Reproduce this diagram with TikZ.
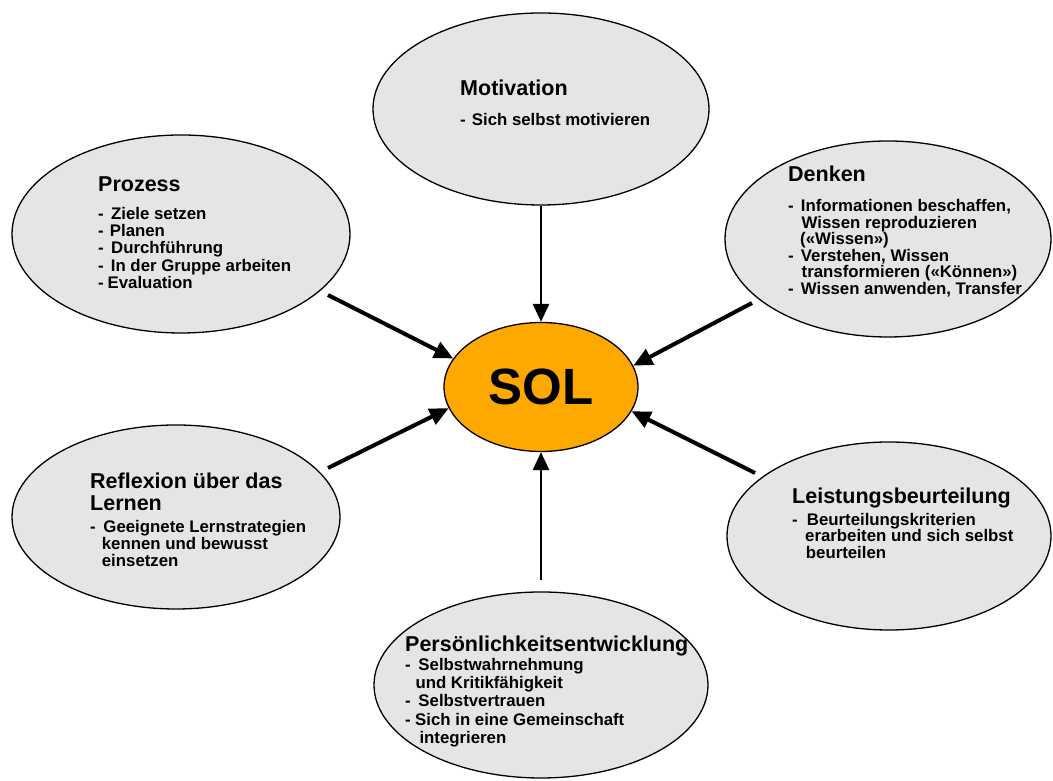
\documentclass[tikz,border=0pt]{standalone}
\usepackage{fontspec}
\setmainfont{Liberation Sans}
\usetikzlibrary{shapes.geometric,arrows.meta}
\definecolor{bubblegrey}{RGB}{229,229,229}
\definecolor{solorange}{RGB}{255,168,0}
\newcommand\mydash[1][12pt]{\makebox[#1][l]{-}}
\newcommand\myind[1][12.5pt]{\hspace*{#1}}
\newcommand\tstrut{\rule{0pt}{20pt}}
\newcommand\bstrut{\rule{0pt}{16pt}}
\begin{document}
\begin{tikzpicture}[x=1pt,y=1pt,
  bubble/.style={ellipse,draw=black,line width=1.3pt,fill=bubblegrey,inner sep=0pt},
  ttl/.style={anchor=north west,inner sep=0pt,align=left,font=\fontsize{21.5}{22.4}\selectfont\bfseries},
  body/.style={anchor=north west,inner sep=0pt,align=left,font=\fontsize{16.8}{#1}\selectfont\bfseries},
  body/.default=17.2,
  arr/.style={-{Triangle[length=19pt,width=17pt]},line width=4pt},
  varr/.style={-{Triangle[length=18pt,width=16pt]},line width=2.8pt}]
\useasboundingbox (0,0) rectangle (1053,781);

% bubbles
\node[bubble,minimum width=336pt,minimum height=192pt] (mot) at (541,672) {};
\node[bubble,minimum width=338pt,minimum height=198pt] (proz) at (181,547) {};
\node[bubble,minimum width=326pt,minimum height=196pt] (denk) at (888,542) {};
\node[bubble,minimum width=328pt,minimum height=184pt] (refl) at (176,264) {};
\node[bubble,minimum width=324pt,minimum height=188pt] (leist) at (889,245) {};
\node[bubble,minimum width=334pt,minimum height=186pt] (pers) at (541,96) {};

% centre
\node[ellipse,draw=black,line width=1.3pt,fill=solorange,inner sep=0pt,
      minimum width=194pt,minimum height=129pt,
      font=\fontsize{51}{51}\selectfont\bfseries] (sol) at (541,394) {SOL};

% texts
\node[ttl] (motT) at (460,706) {\tstrut Motivation};
\node[body] (motB) at (460,672) {\bstrut\mydash[11.7pt]Sich selbst motivieren};

\node[ttl] (prozT) at (98,609.3) {\tstrut Prozess};
\node[body=17.25] (prozB) at (98,577.7) {\bstrut\mydash[13pt]Ziele setzen\\
  \mydash[11.7pt]Planen\\
  \mydash[13pt]Durchführung\\
  \mydash[12.7pt]In der Gruppe arbeiten\\
  \mydash[9.5pt]Evaluation};

\node[ttl] (denkT) at (788,619.3) {\tstrut Denken};
\node[body=16.5] (denkB) at (788,585.3) {\bstrut\mydash[12.7pt]Informationen beschaffen,\\
  \myind[13.5pt]Wissen reproduzieren\\
  \myind[12pt](«Wissen»)\\
  \mydash[12.7pt]Verstehen, Wissen\\
  \myind[13.5pt]transformieren («Können»)\\
  \mydash[12.7pt]Wissen anwenden, Transfer};

\node[ttl] (reflT) at (90,312.7) {\tstrut Reflexion über das\\Lernen};
\node[body=17] (reflB) at (90,264.3) {\bstrut\mydash[13.3pt]Geeignete Lernstrategien\\
  \myind[11.7pt]kennen und bewusst\\
  \myind[11.7pt]einsetzen};

\node[ttl] (leistT) at (792,297.7) {\tstrut Leistungsbeurteilung};
\node[body=16.7] (leistB) at (792,272) {\bstrut\mydash[14.7pt]Beurteilungskriterien\\
  \myind[13pt]erarbeiten und sich selbst\\
  \myind[13.7pt]beurteilen};

\node[ttl] (persT) at (405,149.3) {\tstrut Persönlichkeitsentwicklung};
\node[body=18.3] (persB) at (405,127) {\bstrut\mydash[13.3pt]Selbstwahrnehmung\\
  \myind[10.3pt]und Kritikfähigkeit\\
  \mydash[13.3pt]Selbstvertrauen\\
  \mydash[10pt]Sich in eine Gemeinschaft\\
  \myind[14.3pt]integrieren};

% connectors
\coordinate (cP) at (328,486);
\coordinate (cR) at (328,313);
\coordinate (cD) at (752,478);
\coordinate (cL) at (755,308);
\coordinate (cB) at (541,201);
\draw[arr] (cP) -- (sol.162);
\draw[arr] (cR) -- (sol.193);
\draw[arr] (cD) -- (sol.13);
\draw[arr] (cL) -- (sol.345);
\draw[varr] (mot) -- (sol);
\draw[varr] (cB) -- (sol);
\end{tikzpicture}
\end{document}
